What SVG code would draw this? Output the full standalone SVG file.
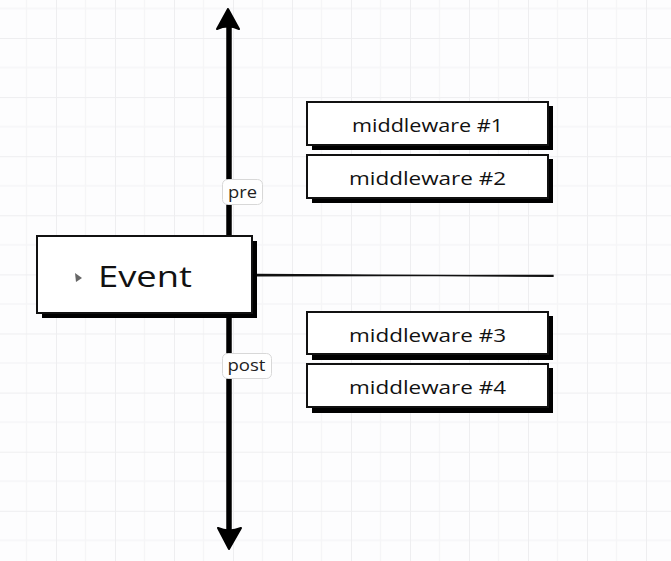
<svg xmlns="http://www.w3.org/2000/svg" width="671" height="561" viewBox="0 0 671 561">
<defs>
<pattern id="grid" x="56" y="38" width="59" height="59.1" patternUnits="userSpaceOnUse">
<path d="M29.5 0V59.1M0 29.55H59" stroke="#f5f5f7" stroke-width="1.5" fill="none"/>
<path d="M0 0V59.1M0 0H59" stroke="#eeeef0" stroke-width="2" fill="none"/>
</pattern>
</defs>
<style>
.shadow{fill:#000}
.box{fill:#fff;stroke:#111;stroke-width:2}
.t{font-family:"Open Sans","Noto Sans",sans-serif;fill:#111;text-anchor:middle}
.mw{font-size:19px}
.lbl{fill:#fff;stroke:#d8d8d8;stroke-width:1}
.lt{font-family:"Open Sans","Noto Sans",sans-serif;font-size:16px;fill:#222;text-anchor:middle}
</style>
<rect width="671" height="561" fill="#fdfdfe"/>
<rect width="671" height="561" fill="url(#grid)"/>
<g id="connectors">
<line x1="229" y1="24" x2="229" y2="532" stroke="#000" stroke-width="5.5"/>
<path d="M228 9L217 29Q228 24 239 29Z" fill="#000" stroke="#000" stroke-width="2" stroke-linejoin="round"/>
<path d="M229 549L218 528Q229 533 241 528Z" fill="#000" stroke="#000" stroke-width="2" stroke-linejoin="round"/>
<path d="M256 274.3L553 276.3L553 275.3L256 275.9Z" fill="#111" stroke="#111" stroke-width="1.3"/>
</g>
<g id="pre">
<rect class="lbl" x="222.5" y="179.5" width="40" height="25" rx="5"/>
<text class="lt" x="242.5" y="197.5" textLength="29" lengthAdjust="spacingAndGlyphs">pre</text>
</g>
<g id="post">
<rect class="lbl" x="222.5" y="353.5" width="49" height="25" rx="5"/>
<text class="lt" x="246.5" y="371" textLength="38" lengthAdjust="spacingAndGlyphs">post</text>
</g>
<g id="event">
<rect class="shadow" x="42" y="241" width="215" height="77"/>
<rect class="box" x="37" y="236" width="215" height="77"/>
<path d="M75 273L82 278L76 282Z" fill="#666"/>
<text class="t" x="145" y="287" font-size="30" textLength="94" lengthAdjust="spacingAndGlyphs">Event</text>
</g>
<g id="mw1">
<rect class="shadow" x="312" y="106" width="241" height="44"/>
<rect class="box" x="307" y="102" width="241" height="43"/>
<text class="t mw" x="427.5" y="132" textLength="151" lengthAdjust="spacingAndGlyphs">middleware #1</text>
</g>
<g id="mw2">
<rect class="shadow" x="312" y="159" width="241" height="44"/>
<rect class="box" x="307" y="155" width="241" height="43"/>
<text class="t mw" x="427.5" y="185" textLength="157" lengthAdjust="spacingAndGlyphs">middleware #2</text>
</g>
<g id="mw3">
<rect class="shadow" x="312" y="316" width="241" height="44"/>
<rect class="box" x="307" y="312" width="241" height="42"/>
<text class="t mw" x="427.5" y="342" textLength="157" lengthAdjust="spacingAndGlyphs">middleware #3</text>
</g>
<g id="mw4">
<rect class="shadow" x="312" y="368" width="241" height="45"/>
<rect class="box" x="307" y="364" width="241" height="43"/>
<text class="t mw" x="427.5" y="394" textLength="157" lengthAdjust="spacingAndGlyphs">middleware #4</text>
</g>
</svg>
